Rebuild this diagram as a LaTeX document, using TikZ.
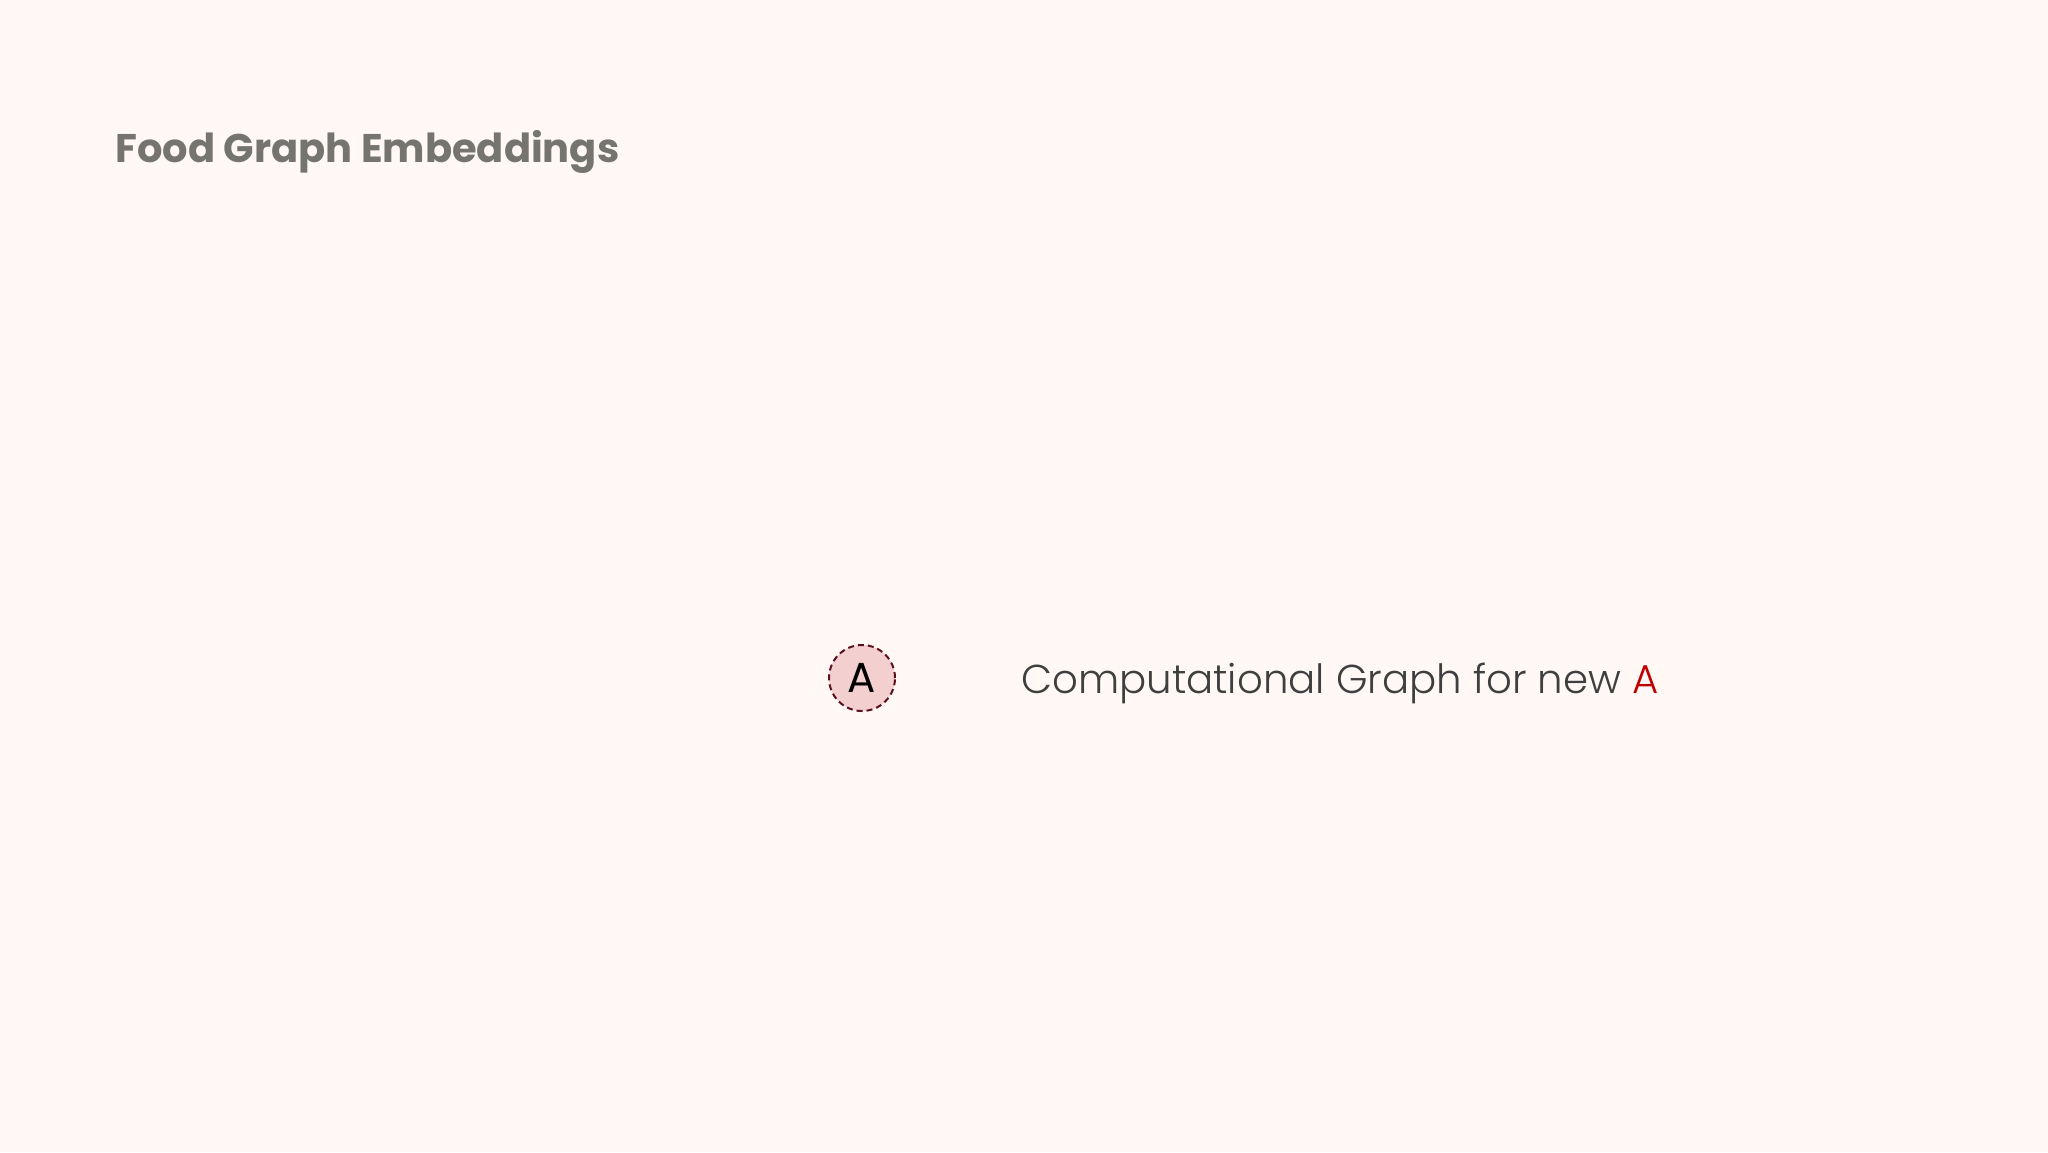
\documentclass[tikz,border=0pt]{standalone}
\usepackage{fontspec}
\setmainfont{Poppins}
\newfontfamily\titlefont{Poppins}[UprightFont=* Bold]
\newfontfamily\lightfont{Poppins}[UprightFont=* Light]
\definecolor{bg}{HTML}{FFF8F4}
\definecolor{titlegray}{HTML}{767470}
\definecolor{nodefill}{HTML}{F4CFCF}
\definecolor{nodeline}{HTML}{5A1020}
\definecolor{textgray}{HTML}{3F3F3F}
\definecolor{accent}{HTML}{C00000}
\tikzset{
  x=1pt, y=-1pt,
  titlestyle/.style={anchor=base west, inner sep=0pt, text=titlegray, font=\titlefont\fontsize{40}{48}\selectfont},
  nodecircle/.style={circle, draw=nodeline, fill=nodefill, dashed, line width=2pt, dash pattern=on 6pt off 4pt, minimum size=66pt, inner sep=0pt, font=\fontsize{42}{46}\selectfont, text=black},
  labelstyle/.style={anchor=base west, inner sep=0pt, text=textgray, font=\lightfont\fontsize{40.3}{48}\selectfont}
}
\begin{document}
\begin{tikzpicture}
\fill[bg] (0,0) rectangle (2048,1152);
\useasboundingbox (0,0) rectangle (2048,1152);
\node[titlestyle] (title) at (115,162) {Food Graph Embeddings};
\node[nodecircle] (a) at (862,678) {A};
\node[labelstyle] (label) at (1021,693) {Computational Graph for new \textcolor{accent}{A}};
\end{tikzpicture}
\end{document}
